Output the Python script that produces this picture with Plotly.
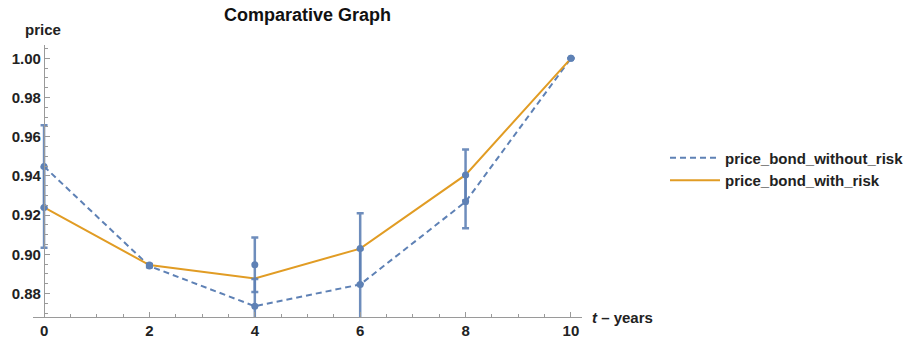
import plotly.graph_objects as go

# Data
t_years = [0, 2, 4, 6, 8, 10]
price_bond_without_risk = [0.9448, 0.8940, 0.8735, 0.8846, 0.9268, 1.0]
price_bond_with_risk = [0.9239, 0.8945, 0.8877, 0.9029, 0.9405, 1.0]

# simulated estimates with error bars (blue points)
est_upper = [0.9448, 0.8945, 0.8947, 0.9029, 0.9405, 1.0]
err_upper = [0.0210, 0.0006, 0.0139, 0.0180, 0.0130, 0.0]
est_lower = [0.9239, 0.8940, 0.8735, 0.8846, 0.9268, 1.0]
err_lower = [0.0205, 0.0006, 0.0139, 0.0180, 0.0135, 0.0]

y_ticks = [0.88, 0.90, 0.92, 0.94, 0.96, 0.98, 1.00]
x_ticks = [0, 2, 4, 6, 8, 10]

BLUE = "#5E81B5"
ORANGE = "#E19C24"
AXIS = "#9a9a9a"
FONT = "Liberation Sans"
FS = 15

fig = go.Figure()

fig.add_trace(go.Scatter(
    x=t_years, y=price_bond_without_risk, mode="lines",
    name="price_bond_without_risk",
    line=dict(color=BLUE, width=2, dash="6px,4px"),
))
fig.add_trace(go.Scatter(
    x=t_years, y=price_bond_with_risk, mode="lines",
    name="price_bond_with_risk",
    line=dict(color=ORANGE, width=2),
))

for est, err in [(est_upper, err_upper), (est_lower, err_lower)]:
    fig.add_trace(go.Scatter(
        x=t_years, y=est, mode="markers",
        marker=dict(color=BLUE, size=7),
        error_y=dict(type="data", array=err, visible=True, color="rgba(94,129,181,0.9)",
                     thickness=2.5, width=3.5),
        showlegend=False, hoverinfo="skip",
    ))

L, R, T, B = 33, 322, 45, 22
PW = 904 - L - R
PH = 339 - T - B
xr = [-0.21, 10.21]
yr = [0.868, 1.0068]

fig.update_layout(
    width=904, height=339,
    margin=dict(l=L, r=R, t=T, b=B, autoexpand=False),
    paper_bgcolor="white", plot_bgcolor="white",
    font=dict(family=FONT, size=FS, color="#222", weight="bold"),
    showlegend=True,
    legend=dict(x=(665 - L) / PW, xanchor="left", y=(339 - B - 169) / PH, yanchor="middle",
                font=dict(family=FONT, size=FS, color="#222", weight="bold"),
                tracegroupgap=0, itemwidth=50, bgcolor="rgba(0,0,0,0)"),
    xaxis=dict(range=xr, showgrid=False, zeroline=False, showline=True, automargin=False,
               linecolor=AXIS, linewidth=1.3, tickvals=x_ticks, ticks="inside",
               ticklen=5, tickcolor=AXIS, tickwidth=1,
               minor=dict(dtick=0.5, tick0=0, ticks="inside", ticklen=3, tickcolor=AXIS),
               tickfont=dict(family=FONT, size=FS, weight="bold", color="#222")),
    yaxis=dict(range=yr, showgrid=False, zeroline=False, showline=True, automargin=False,
               linecolor=AXIS, linewidth=1.3, anchor="free",
               position=(0 - xr[0]) / (xr[1] - xr[0]),
               tickvals=y_ticks, tickformat=".2f", ticks="inside",
               ticklen=5, tickcolor=AXIS, tickwidth=1,
               minor=dict(dtick=0.005, tick0=0.86, ticks="inside", ticklen=3, tickcolor=AXIS),
               tickfont=dict(family=FONT, size=FS, weight="bold", color="#222")),
    annotations=[
        dict(text="Comparative Graph", xref="paper", yref="paper",
             x=0.5, y=1 + (T - 15) / PH, xanchor="center", yanchor="middle",
             showarrow=False, font=dict(family=FONT, size=18, weight="bold", color="#111")),
        dict(text="price", xref="paper", yref="paper",
             x=(43 - L) / PW, y=1 + (T - 30) / PH, xanchor="center", yanchor="middle",
             showarrow=False, font=dict(family=FONT, size=FS, weight="bold", color="#222")),
        dict(text="<i>t</i> – years", xref="paper", yref="paper",
             x=(590 - L) / PW, y=0, xanchor="left", yanchor="middle",
             showarrow=False, font=dict(family=FONT, size=FS, weight="bold", color="#222")),
    ],
)

fig.write_html("out.html", config={"displayModeBar": False},
               post_script="document.body.style.margin='0';document.body.style.overflow='hidden';")
